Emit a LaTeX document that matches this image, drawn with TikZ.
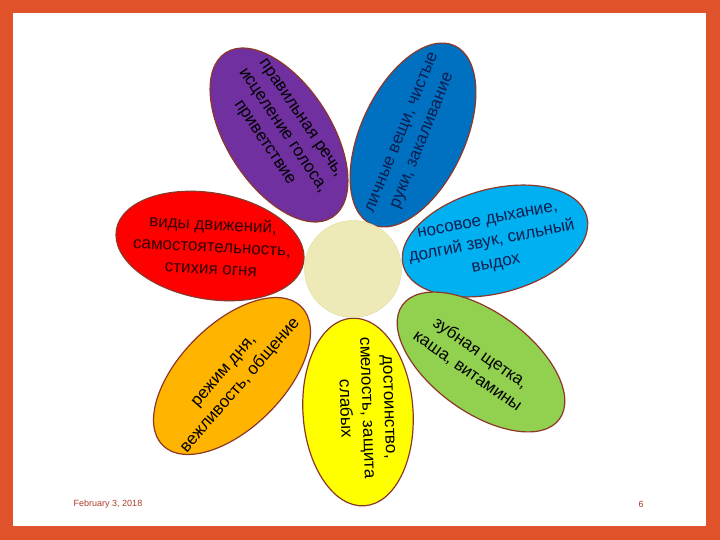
\documentclass[tikz,border=0pt]{standalone}
\usepackage{fontspec}
\setmainfont{Liberation Sans}
\usepackage{xcolor}
\usetikzlibrary{shapes.geometric}
\definecolor{framered}{RGB}{224, 82, 42}
\definecolor{petalline}{RGB}{140, 55, 40}
\definecolor{speechpurple}{RGB}{112, 48, 160}
\definecolor{hygieneblue}{RGB}{0, 112, 192}
\definecolor{breathcyan}{RGB}{0, 176, 240}
\definecolor{teethgreen}{RGB}{146, 208, 80}
\definecolor{dignityyellow}{RGB}{255, 255, 0}
\definecolor{regimeorange}{RGB}{255, 180, 0}
\definecolor{movementred}{RGB}{255, 0, 0}
\definecolor{corecream}{RGB}{238, 234, 184}
\definecolor{footerred}{RGB}{170, 60, 40}
\definecolor{inknavy}{RGB}{15, 30, 80}

\begin{document}
\begin{tikzpicture}[
    x=1pt, y=-1pt,
    petal/.style={ellipse, draw=petalline, line width=1.2pt, inner sep=0pt, minimum width=194pt, minimum height=104pt},
    petaltext/.style={font=\fontsize{17}{22}\selectfont, align=center, text=black},
    footer/.style={font=\fontsize{9}{11}\selectfont, text=footerred}
]

% Frame
\fill[framered] (0,0) rectangle (720,540);
\fill[white] (13,13) rectangle (706,526);
\useasboundingbox (0,0) rectangle (720,540);

% Petals
\node[petal, fill=speechpurple, minimum width=196pt, rotate=-57] (speech) at (279,135) {};
\node[petal, fill=hygieneblue, minimum width=197pt, rotate=65] (hygiene) at (413,135) {};
\node[petal, fill=breathcyan, minimum width=190pt, rotate=15] (breath) at (495,241) {};
\node[petal, fill=teethgreen, minimum height=100pt, rotate=-36] (teeth) at (481,362) {};
\node[petal, fill=dignityyellow, minimum width=188pt, minimum height=110pt, rotate=-86] (dignity) at (358,412) {};
\node[petal, fill=regimeorange, minimum width=196pt, rotate=45] (regime) at (232,376) {};
\node[petal, fill=movementred, minimum width=190pt, minimum height=106pt, rotate=-10] (movement) at (210,246) {};

% Center
\node[circle, fill=corecream, draw=corecream!85!olive, minimum size=97pt, inner sep=0pt] (core) at (353,269) {};

% Petal texts
\node[petaltext, rotate=-56] (speechtext) at (282,131) {правильная речь,\\исцеление голоса,\\приветствие};
\node[petaltext, text=inknavy, rotate=68] (hygienetext) at (413,137) {личные вещи, чистые\\руки, закаливание};
\node[petaltext, text=inknavy, rotate=11] (breathtext) at (492,243) {носовое дыхание,\\долгий звук, сильный\\выдох};
\node[petaltext, rotate=-35] (teethtext) at (474,362) {зубная щетка,\\каша, витамины};
\node[petaltext, rotate=-88] (dignitytext) at (367,408) {достоинство,\\смелость, защита\\слабых};
\node[petaltext, rotate=49] (regimetext) at (233,379) {режим дня,\\вежливость, общение};
\node[petaltext, text=black!80!red, rotate=-3] (movementtext) at (212,246) {виды движений,\\самостоятельность,\\стихия огня};

% Footer
\node[footer] (date) at (108,504) {February 3, 2018};
\node[footer] (pagenum) at (641,504) {6};

\end{tikzpicture}
\end{document}
